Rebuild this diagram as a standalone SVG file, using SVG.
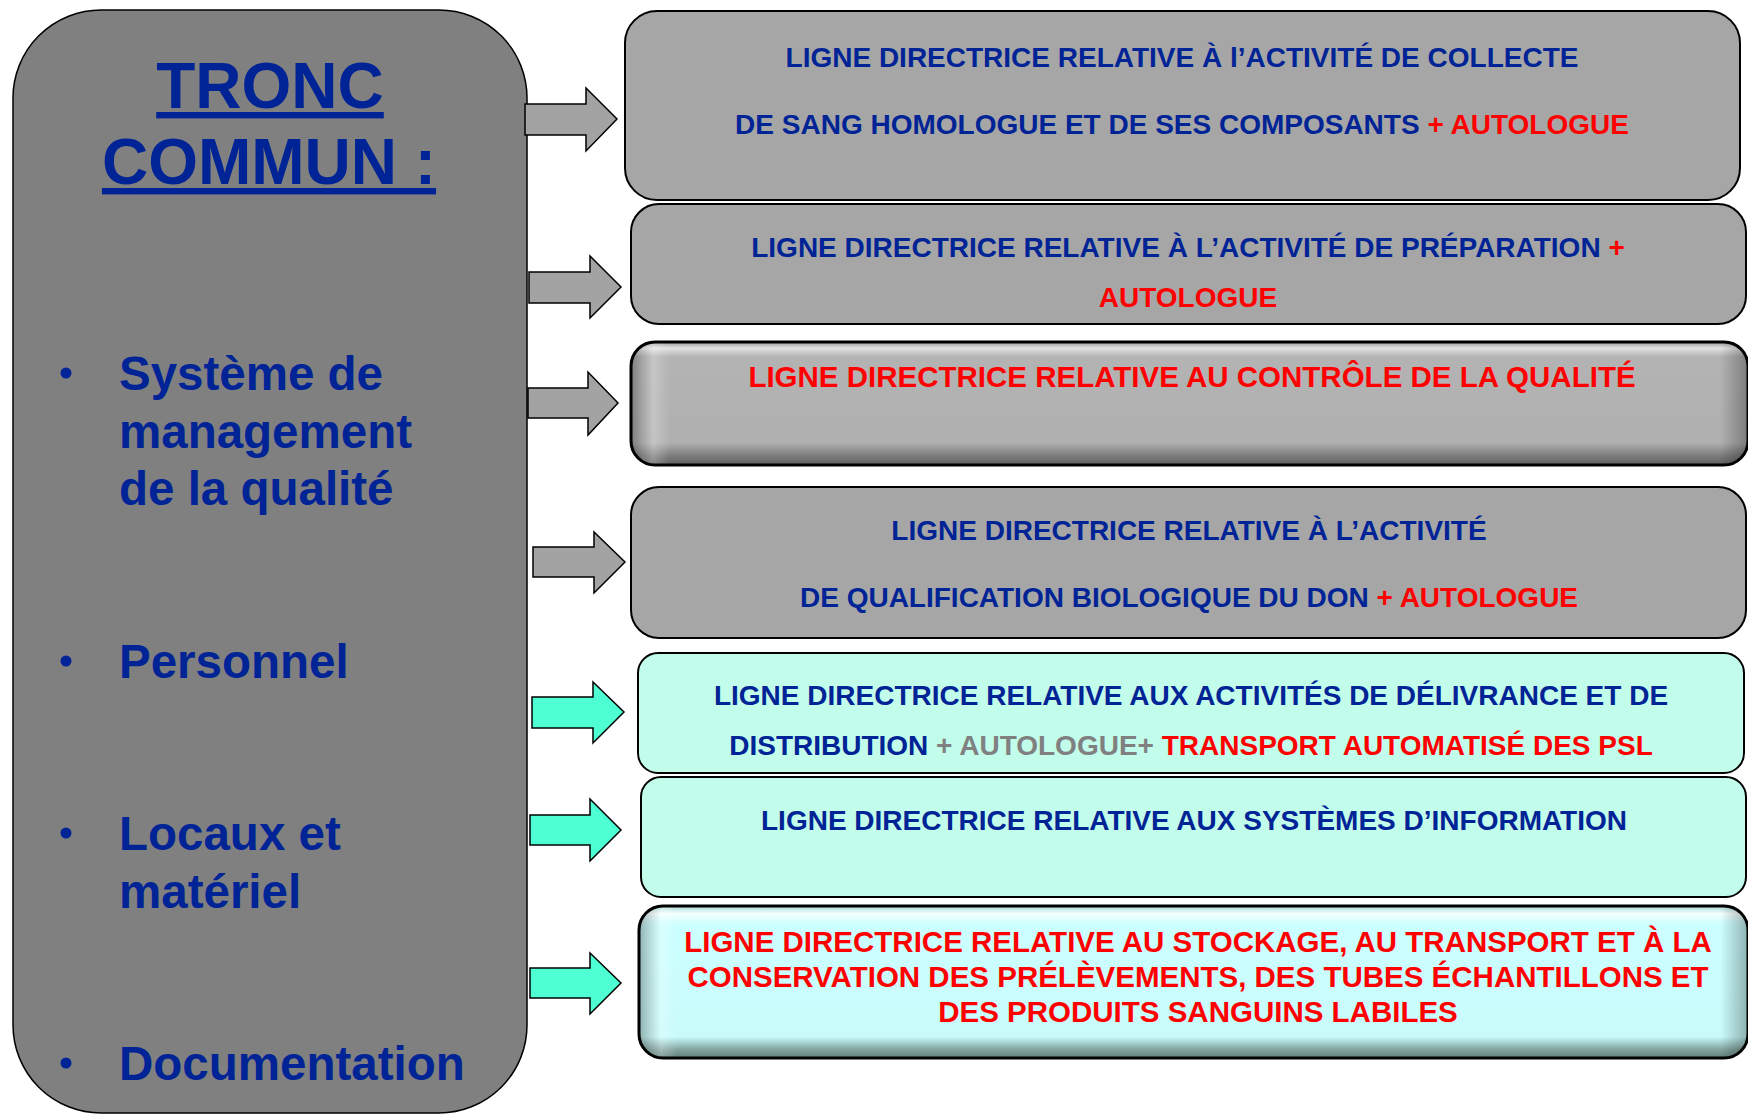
<svg xmlns="http://www.w3.org/2000/svg" width="1748" height="1115" viewBox="0 0 1748 1115">
  <style>
    text { font-family: "Liberation Sans", Arial, sans-serif; font-weight: bold; }
    .title { font-size: 64px; fill: #002396; text-decoration: underline; }
    .item { font-size: 47.5px; fill: #002396; }
    .bul { fill: #002396; }
    .lbl { font-size: 28px; text-anchor: middle; fill: #002396; }
    .lblL { font-size: 29.5px; text-anchor: middle; fill: #ff0000; }
    .red { fill: #ff0000; }
    .grey { fill: #808080; }
    .boxGrey { fill: #a6a6a6; stroke: #000; stroke-width: 2; }
    .boxMint { fill: #c2fcea; stroke: #000; stroke-width: 2; }
    .edge { fill: none; stroke: #000; stroke-width: 3; }
    .arrGrey { fill: #a3a3a3; stroke: #000; stroke-width: 1.5; stroke-linejoin: miter; }
    .arrCyan { fill: #4dffd2; stroke: #000; stroke-width: 1.5; stroke-linejoin: miter; }
  </style>
  <defs>
    <!-- bevel shading for the two raised boxes -->
    <linearGradient id="bevelGreyV" x1="0" y1="0" x2="0" y2="1">
      <stop offset="0" stop-color="#9a9a9a"/>
      <stop offset="0.05" stop-color="#e4e4e4"/>
      <stop offset="0.12" stop-color="#b3b3b3"/>
      <stop offset="0.82" stop-color="#b0b0b0"/>
      <stop offset="0.92" stop-color="#7e7e7e"/>
      <stop offset="1" stop-color="#5e5e5e"/>
    </linearGradient>
    <linearGradient id="bevelCyanV" x1="0" y1="0" x2="0" y2="1">
      <stop offset="0" stop-color="#a8d8d6"/>
      <stop offset="0.05" stop-color="#f4ffff"/>
      <stop offset="0.12" stop-color="#ccffff"/>
      <stop offset="0.86" stop-color="#c8fbfa"/>
      <stop offset="0.94" stop-color="#85a8a4"/>
      <stop offset="1" stop-color="#5f7d79"/>
    </linearGradient>
    <linearGradient id="bevelSide" x1="0" y1="0" x2="1" y2="0">
      <stop offset="0" stop-color="#000" stop-opacity="0.3"/>
      <stop offset="0.02" stop-color="#fff" stop-opacity="0.25"/>
      <stop offset="0.035" stop-color="#fff" stop-opacity="0"/>
      <stop offset="0.975" stop-color="#000" stop-opacity="0"/>
      <stop offset="1" stop-color="#000" stop-opacity="0.3"/>
    </linearGradient>
  </defs>

  <rect width="1748" height="1115" fill="#ffffff"/>

  <!-- common trunk -->
  <g id="tronc-commun">
    <rect x="13" y="10" width="514" height="1103" rx="88" ry="88" fill="#808080" stroke="#000" stroke-width="1.5"/>
    <text class="title" x="270" y="108" text-anchor="middle">TRONC</text>
    <text class="title" x="269" y="184" text-anchor="middle">COMMUN :</text>
    <circle class="bul" cx="66" cy="373" r="5.5"/>
    <text class="item" x="119" y="390">Système de</text>
    <text class="item" x="119" y="448">management</text>
    <text class="item" x="119" y="505">de la qualité</text>
    <circle class="bul" cx="66" cy="661" r="5.5"/>
    <text class="item" x="119" y="678">Personnel</text>
    <circle class="bul" cx="66" cy="833" r="5.5"/>
    <text class="item" x="119" y="850">Locaux et</text>
    <text class="item" x="119" y="908">matériel</text>
    <circle class="bul" cx="66" cy="1063" r="5.5"/>
    <text class="item" x="119" y="1080">Documentation</text>
  </g>

  <!-- block arrows from the trunk to each guideline -->
  <g id="connectors">
    <polygon class="arrGrey" points="525,104 586,104 586,88 617,119 586,151 586,135 525,135"/>
    <polygon class="arrGrey" points="529,272 590,272 590,256 621,287 590,318 590,303 529,303"/>
    <polygon class="arrGrey" points="528,388 588,388 588,372 618,403 588,435 588,418 528,418"/>
    <polygon class="arrGrey" points="533,547 594,547 594,532 625,562 594,593 594,577 533,577"/>
    <polygon class="arrCyan" points="532,697 593,697 593,682 624,712 593,743 593,728 532,728"/>
    <polygon class="arrCyan" points="530,815 590,815 590,799 621,830 590,861 590,845 530,845"/>
    <polygon class="arrCyan" points="530,968 590,968 590,953 621,983 590,1014 590,998 530,998"/>
  </g>

  <g id="collecte">
    <rect class="boxGrey" x="625" y="11" width="1115" height="189" rx="32" ry="32"/>
    <text class="lbl" x="1182" y="67">LIGNE DIRECTRICE RELATIVE À l’ACTIVITÉ DE COLLECTE</text>
    <text class="lbl" x="1182" y="134">DE SANG HOMOLOGUE ET DE SES COMPOSANTS<tspan class="red"> + AUTOLOGUE</tspan></text>
  </g>

  <g id="preparation">
    <rect class="boxGrey" x="631" y="204" width="1115" height="120" rx="28" ry="28"/>
    <text class="lbl" x="1188" y="257">LIGNE DIRECTRICE RELATIVE À L’ACTIVITÉ DE PRÉPARATION<tspan class="red"> +</tspan></text>
    <text class="lbl red" x="1188" y="307">AUTOLOGUE</text>
  </g>

  <g id="controle-qualite">
    <rect x="631" y="342" width="1117" height="123" rx="24" ry="24" fill="url(#bevelGreyV)"/>
    <rect x="631" y="342" width="1117" height="123" rx="24" ry="24" fill="url(#bevelSide)"/>
    <rect class="edge" x="631" y="342" width="1117" height="123" rx="24" ry="24"/>
    <text class="lblL" x="1192" y="387">LIGNE DIRECTRICE RELATIVE AU CONTRÔLE DE LA QUALITÉ</text>
  </g>

  <g id="qualification-biologique">
    <rect class="boxGrey" x="631" y="487" width="1115" height="151" rx="28" ry="28"/>
    <text class="lbl" x="1189" y="540">LIGNE DIRECTRICE RELATIVE À L’ACTIVITÉ</text>
    <text class="lbl" x="1189" y="607">DE QUALIFICATION BIOLOGIQUE DU DON<tspan class="red"> + AUTOLOGUE</tspan></text>
  </g>

  <g id="delivrance-distribution">
    <rect class="boxMint" x="638" y="653" width="1106" height="120" rx="20" ry="20"/>
    <text class="lbl" x="1191" y="705">LIGNE DIRECTRICE RELATIVE AUX ACTIVITÉS DE DÉLIVRANCE ET DE</text>
    <text class="lbl" x="1191" y="755">DISTRIBUTION<tspan class="grey"> + AUTOLOGUE+ </tspan><tspan class="red">TRANSPORT AUTOMATISÉ DES PSL</tspan></text>
  </g>

  <g id="systemes-information">
    <rect class="boxMint" x="641" y="777" width="1105" height="120" rx="20" ry="20"/>
    <text class="lbl" x="1194" y="830">LIGNE DIRECTRICE RELATIVE AUX SYSTÈMES D’INFORMATION</text>
  </g>

  <g id="stockage-transport">
    <rect x="639" y="906" width="1109" height="152" rx="24" ry="24" fill="url(#bevelCyanV)"/>
    <rect x="639" y="906" width="1109" height="152" rx="24" ry="24" fill="url(#bevelSide)"/>
    <rect class="edge" x="639" y="906" width="1109" height="152" rx="24" ry="24"/>
    <text class="lblL" x="1198" y="952">LIGNE DIRECTRICE RELATIVE AU STOCKAGE, AU TRANSPORT ET À LA</text>
    <text class="lblL" x="1198" y="987">CONSERVATION DES PRÉLÈVEMENTS, DES TUBES ÉCHANTILLONS ET</text>
    <text class="lblL" x="1198" y="1022">DES PRODUITS SANGUINS LABILES</text>
  </g>
</svg>
